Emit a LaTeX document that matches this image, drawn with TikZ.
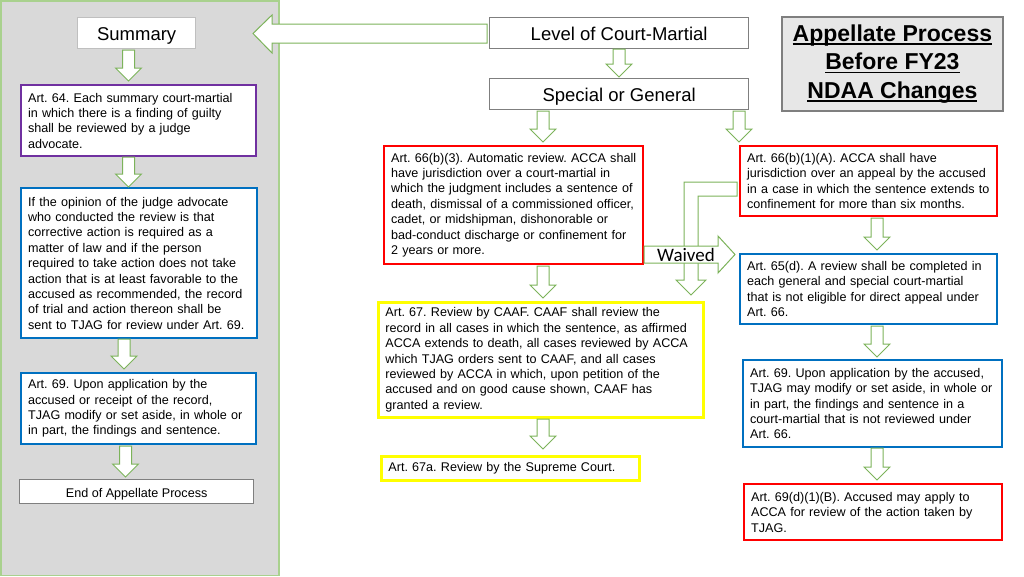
\documentclass[tikz,border=0pt]{standalone}
\usepackage{fontspec}
\setmainfont{Liberation Sans}
\newfontfamily\calib{Carlito}
\newcommand\myul[1]{\setbox0\hbox{#1}\rlap{\rule[-3.6pt]{\wd0}{1.8pt}}\box0}
\newcommand\bxf{\fontsize{12.6}{15.4}\selectfont\frenchspacing\hyphenpenalty=10000\relax}
\newcommand\ml[1]{\mbox{#1}}
\definecolor{pgray}{HTML}{D9D9D9}
\definecolor{pgreen}{HTML}{A9D18E}
\definecolor{agreen}{HTML}{7CB35A}
\definecolor{cred}{HTML}{FF0000}
\definecolor{cblue}{HTML}{0070C0}
\definecolor{cpurple}{HTML}{7030A0}
\definecolor{cyellow}{HTML}{FFFF00}
\definecolor{bgray}{HTML}{7F7F7F}
\definecolor{lgray}{HTML}{BFBFBF}
\definecolor{tfill}{HTML}{E7E7E7}
\tikzset{
  bx/.style={draw=#1, line width=2.2pt, fill=white, anchor=north west, inner xsep=7pt, inner ysep=0pt, align=left, font=\bxf},
  lbl/.style={draw=#1, line width=1.3pt, fill=white, anchor=north west, inner sep=0pt, align=center, text height=15pt, text depth=0pt, font=\fontsize{18.5}{20}\selectfont},
  blk/.style={draw=agreen, fill=white, line width=1pt, line join=miter},
}
\newcommand\dnarr[3]{\draw[blk] ({#1-6},#2) -- ({#1+6},#2) -- ({#1+6},{#3-13}) -- ({#1+13},{#3-13}) -- (#1,#3) -- ({#1-13},{#3-13}) -- ({#1-6},{#3-13}) -- cycle;}
\begin{document}
\frenchspacing
\begin{tikzpicture}[x=1pt,y=-1pt]
\useasboundingbox (0,0) rectangle (1024,576);
% left panel
\draw[pgreen, fill=pgray, line width=1.5pt] (0.75,0.75) rectangle (279,575.25);
% big left arrow
\draw[blk] (487,24) -- (272,24) -- (272,15) -- (253,33.5) -- (272,53) -- (272,43) -- (487,43) -- cycle;

% left column
\node[lbl=lgray, minimum width=118pt, minimum height=31pt] (sum) at (77,17) {Summary};
\node[bx=cpurple, minimum width=235pt, minimum height=71pt, text width=221pt] (a64) at (20,84)
 {\ml{Art. 64. Each summary court-martial}\\ \ml{in which there is a finding of guilty}\\ \ml{shall be reviewed by a judge}\\ advocate.};
\node[bx=cblue, minimum width=236pt, minimum height=150pt, text width=222pt] (opin) at (20,187)
 {\ml{If the opinion of the judge advocate}\\ \ml{who conducted the review is that}\\ \ml{corrective action is required as a}\\ \ml{matter of law and if the person}\\ \ml{required to take action does not take}\\ \ml{action that is at least favorable to the}\\ \ml{accused as recommended, the record}\\ \ml{of trial and action thereon shall be}\\ \ml{sent to TJAG for review under Art. 69.}};
\node[bx=cblue, minimum width=235pt, minimum height=71pt, text width=221pt] (a69l) at (20,372)
 {\ml{Art. 69. Upon application by the}\\ \ml{accused or receipt of the record,}\\ \ml{TJAG modify or set aside, in whole or}\\ \ml{in part, the findings and sentence.}};
\node[lbl=bgray, minimum width=234pt, minimum height=24pt, text height=11.4pt, font=\fontsize{12.6}{15.4}\selectfont] (endp) at (19,479) {End of Appellate Process};

% middle
\node[lbl=bgray, minimum width=259pt, minimum height=31pt] (lvl) at (489,17) {Level of Court-Martial};
\node[lbl=bgray, minimum width=259pt, minimum height=31pt] (spg) at (489,78) {Special or General};
\node[bx=cred, minimum width=259pt, minimum height=118pt, text width=245pt] (a66b3) at (383,145)
 {\ml{Art. 66(b)(3). Automatic review. ACCA shall}\\ \ml{have jurisdiction over a court-martial in}\\ \ml{which the judgment includes a sentence of}\\ \ml{death, dismissal of a commissioned officer,}\\ \ml{cadet, or midshipman, dishonorable or}\\ \ml{bad-conduct discharge or confinement for}\\ \ml{2 years or more.}};
\node[bx=cyellow, line width=2.8pt, minimum width=325pt, minimum height=115pt, text width=311pt] (a67) at (377,301)
 {\ml{Art. 67. Review by CAAF. CAAF shall review the}\\ \ml{record in all cases in which the sentence, as affirmed}\\ \ml{ACCA extends to death, all cases reviewed by ACCA}\\ \ml{which TJAG orders sent to CAAF, and all cases}\\ \ml{reviewed by ACCA in which, upon petition of the}\\ \ml{accused and on good cause shown, CAAF has}\\ \ml{granted a review.}};
\node[bx=cyellow, line width=2.8pt, minimum width=258pt, minimum height=24pt, text width=244pt] (a67a) at (380,455)
 {Art. 67a. Review by the Supreme Court.};

% right column
\node[bx=cred, minimum width=257pt, minimum height=70pt, text width=243pt] (a66b1) at (739,145)
 {\ml{Art. 66(b)(1)(A). ACCA shall have}\\ \ml{jurisdiction over an appeal by the accused}\\ \ml{in a case in which the sentence extends to}\\ \ml{confinement for more than six months.}};
\node[bx=cblue, minimum width=257pt, minimum height=70pt, text width=243pt] (a65d) at (739,253)
 {\ml{Art. 65(d). A review shall be completed in}\\ \ml{each general and special court-martial}\\ \ml{that is not eligible for direct appeal under}\\ Art. 66.};
\node[bx=cblue, minimum width=259pt, minimum height=87pt, text width=245pt] (a69r) at (742,359)
 {\ml{Art. 69. Upon application by the accused,}\\ \ml{TJAG may modify or set aside, in whole or}\\ \ml{in part, the findings and sentence in a}\\ \ml{court-martial that is not reviewed under}\\ Art. 66.};
\node[bx=cred, minimum width=258pt, minimum height=56pt, text width=244pt] (a69d) at (743,483)
 {\ml{Art. 69(d)(1)(B). Accused may apply to}\\ \ml{ACCA for review of the action taken by}\\ TJAG.};

% title
\node[draw=bgray, line width=1.8pt, fill=tfill, minimum width=221pt, minimum height=94pt, anchor=north west, inner sep=0pt, align=center, font=\fontsize{23}{28.5}\selectfont\bfseries] (title) at (781,16)
 {\myul{Appellate Process}\\ \myul{Before FY23}\\ \myul{NDAA Changes}};

% down arrows
\dnarr{128.5}{50}{81}
\dnarr{128.5}{157}{187}
\dnarr{124}{339}{369}
\dnarr{125.5}{446}{477}
\dnarr{619}{49}{77}
\dnarr{543}{111}{142}
\dnarr{739}{111}{142}
\dnarr{543}{266}{298}
\dnarr{543}{419}{449}
\dnarr{877}{218}{250}
\dnarr{877}{326}{357}
\dnarr{877}{448}{480}

% bent arrow
\draw[blk] (737,182) -- (684,182) -- (684,280) -- (676,280) -- (691,295) -- (706,280) -- (698,280) -- (698,196) -- (737,196) -- cycle;
% waived arrow
\draw[blk] (644,246) -- (718,246) -- (718,236) -- (735,254.5) -- (718,273) -- (718,263) -- (644,263) -- cycle;
\node[font=\calib\fontsize{19}{19}\selectfont, inner sep=0pt] (waived) at (686,255) {Waived};
\end{tikzpicture}
\end{document}
